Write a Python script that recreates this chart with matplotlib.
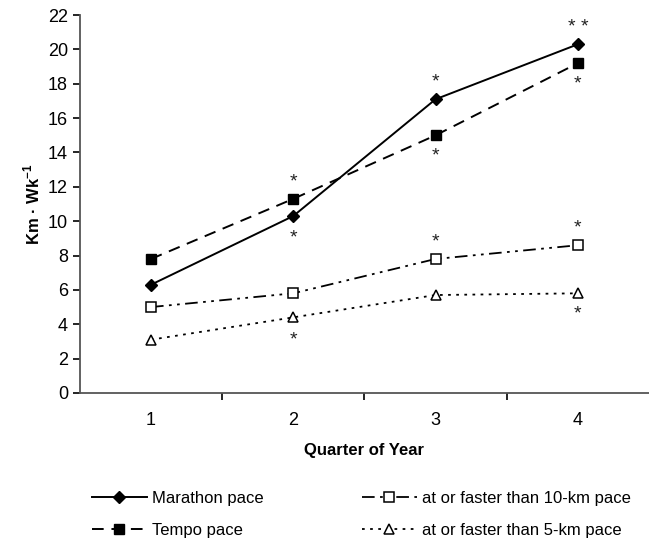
import matplotlib.pyplot as plt

plt.rcParams['font.family'] = ['Liberation Sans', 'DejaVu Sans']
plt.rcParams['mathtext.fontset'] = 'custom'
plt.rcParams['mathtext.bf'] = 'Liberation Sans:bold'
plt.rcParams['mathtext.rm'] = 'Liberation Sans'

quarters = [1, 2, 3, 4]
marathon = [6.3, 10.3, 17.1, 20.3]
tempo = [7.8, 11.3, 15.0, 19.2]
faster_10k = [5.0, 5.8, 7.8, 8.6]
faster_5k = [3.1, 4.4, 5.7, 5.8]
y_ticks = list(range(0, 23, 2))

# significance marks: (quarter, y value, text)
stars = [
    (2, 12.3, '*'), (2, 9.0, '*'), (2, 3.1, '*'),
    (3, 18.1, '*'), (3, 13.8, '*'), (3, 8.8, '*'),
    (4, 21.3, '* *'), (4, 18.0, '*'), (4, 9.6, '*'), (4, 4.6, '*'),
]

fig = plt.figure(figsize=(6.49, 5.39), dpi=100)
ax = fig.add_axes([0.123, 0.271, 0.877, 0.701])

ax.plot(quarters, marathon, color='black', lw=1.4, ls='-',
        marker='D', ms=6, mfc='black', label='Marathon pace')
ax.plot(quarters, tempo, color='black', lw=1.4, ls=(0, (6, 4)),
        marker='s', ms=7, mfc='black', label='Tempo pace')
ax.plot(quarters, faster_10k, color='black', lw=1.3, ls=(0, (7, 3, 1.5, 3, 1.5, 3)),
        marker='s', ms=6.5, mfc='white', mew=1.1, label='at or faster than 10-km pace')
ax.plot(quarters, faster_5k, color='black', lw=1.3, ls=(0, (1.5, 3)),
        marker='^', ms=7, mfc='white', mew=1.1, label='at or faster than 5-km pace')

for q, y, s in stars:
    ax.text(q, y, s, ha='center', va='center', fontsize=14, color='#222222')

ax.set_xlim(0.5, 4.5)
ax.set_ylim(0, 22)
ax.set_yticks(y_ticks)
ax.set_xticks(quarters)
ax.set_xticks([1.5, 2.5, 3.5], minor=True)
ax.tick_params(axis='x', which='major', length=0, pad=14, labelsize=13)
ax.tick_params(axis='x', which='minor', length=5, direction='out', width=1.2)
ax.tick_params(axis='y', length=5, direction='out', width=1.2, labelsize=13)

for side in ['top', 'right']:
    ax.spines[side].set_visible(False)
for side in ['left', 'bottom']:
    ax.spines[side].set_linewidth(1.3)
    ax.spines[side].set_color('#555555')

ax.set_xlabel('Quarter of Year', fontsize=12, fontweight='bold', labelpad=10)
ax.set_ylabel('Km · Wk$^{\\mathbf{-1}}$', fontsize=12, fontweight='bold', labelpad=4)

handles, labels = ax.get_legend_handles_labels()
fig.legend(handles, labels, ncol=2, loc='lower left', bbox_to_anchor=(0.118, -0.026),
           frameon=False, fontsize=12, handlelength=3.3, columnspacing=5.9,
           labelspacing=1.05, handletextpad=0.3)

fig.savefig('out.png', dpi=100)
